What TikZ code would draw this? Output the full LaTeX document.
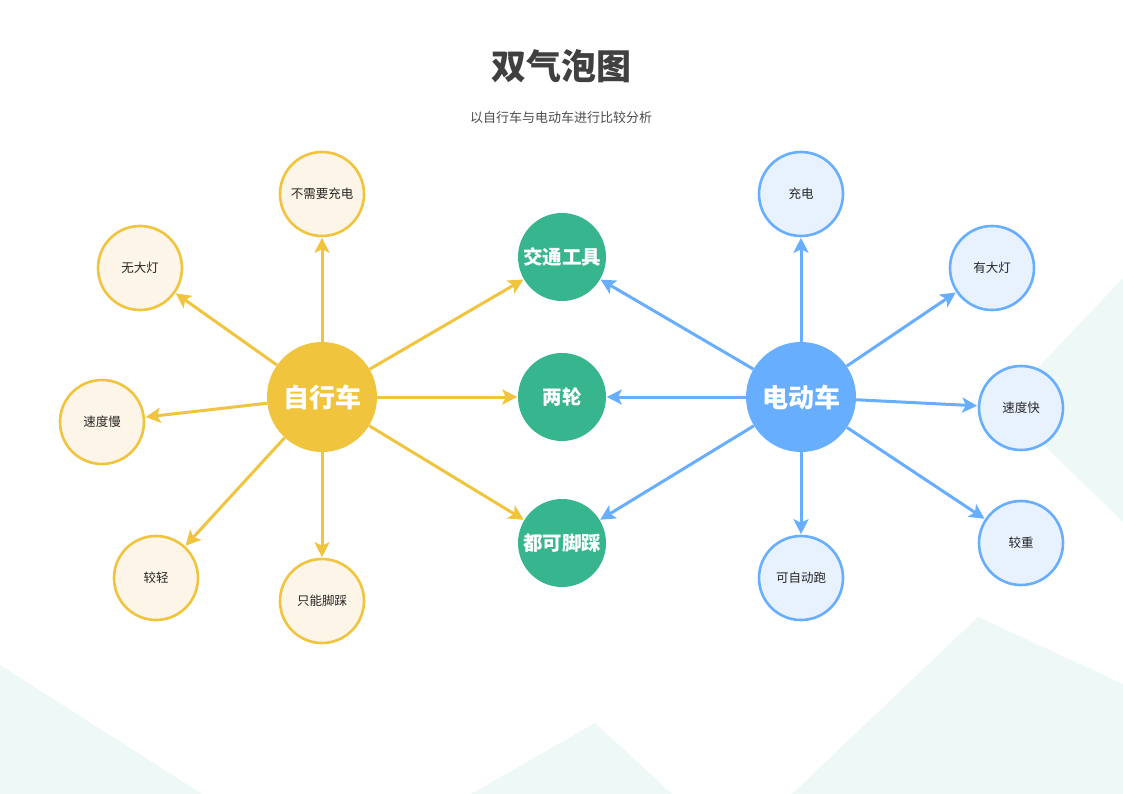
\documentclass[tikz,border=0pt]{standalone}
\usepackage{fontspec}
\setmainfont{Noto Sans CJK SC}
\usetikzlibrary{arrows.meta}
\definecolor{bgc}{HTML}{EDF8F7}
\definecolor{ylw}{HTML}{F0C43C}
\definecolor{ylwf}{HTML}{FDF5E7}
\definecolor{blu}{HTML}{67AEFF}
\definecolor{bluf}{HTML}{E8F1FE}
\definecolor{grn}{HTML}{36B58E}
\definecolor{ttl}{HTML}{404040}
\tikzset{
  big/.style={circle,minimum size=110pt,inner sep=0pt,text=white,font=\fontsize{26}{30}\selectfont\bfseries},
  mid/.style={circle,fill=grn,minimum size=88pt,inner sep=0pt,text=white,font=\fontsize{19.5}{22}\selectfont\bfseries},
  ysm/.style={circle,draw=ylw,fill=ylwf,line width=2.6pt,minimum size=84pt,inner sep=0pt,text=black!85,font=\fontsize{12.5}{15}\selectfont},
  bsm/.style={circle,draw=blu,fill=bluf,line width=2.6pt,minimum size=84pt,inner sep=0pt,text=black!85,font=\fontsize{12.5}{15}\selectfont},
  yarr/.style={draw=ylw,line width=3pt,-{Stealth[length=15pt,width=15pt,inset=3.5pt]},shorten >=0.5pt},
  barr/.style={draw=blu,line width=3pt,-{Stealth[length=15pt,width=15pt,inset=3.5pt]},shorten >=0.5pt}
}
\begin{document}
\begin{tikzpicture}[x=1pt,y=-1pt]
\useasboundingbox (0,0) rectangle (1123,794);
\fill[white] (0,0) rectangle (1123,794);
% background shapes
\fill[bgc] (0,665) -- (202,794) -- (0,794) -- cycle;
\fill[bgc] (471,794) -- (595,723) -- (672,794) -- cycle;
\fill[bgc] (792,794) -- (978,617) -- (1123,684) -- (1123,794) -- cycle;
\fill[bgc] (1123,278) -- (1003,405) -- (1123,522) -- cycle;
% title
\node[text=ttl,font=\fontsize{35}{40}\selectfont\bfseries] (title) at (561,66) {双气泡图};
\node[text=black!70,font=\fontsize{13}{16}\selectfont] (sub) at (561,118) {以自行车与电动车进行比较分析};
% nodes
\node[big,fill=ylw] (A) at (322,397) {自行车};
\node[big,fill=blu] (B) at (801,397) {电动车};
\node[mid] (c1) at (562,257) {交通工具};
\node[mid] (c2) at (562,397) {两轮};
\node[mid] (c3) at (562,543) {都可脚踩};
\node[ysm] (y1) at (322,194) {不需要充电};
\node[ysm] (y2) at (140,268) {无大灯};
\node[ysm] (y3) at (102,422) {速度慢};
\node[ysm] (y4) at (156,578) {较轻};
\node[ysm] (y5) at (322,601) {只能脚踩};
\node[bsm] (b1) at (801,194) {充电};
\node[bsm] (b2) at (992,268) {有大灯};
\node[bsm] (b3) at (1021,408) {速度快};
\node[bsm] (b4) at (1021,543) {较重};
\node[bsm] (b5) at (801,578) {可自动跑};
% connectors
\foreach \t in {y1,y2,y3,y4,y5,c1,c2,c3} \draw[yarr] (A) -- (\t);
\foreach \t in {b1,b2,b3,b4,b5,c1,c2,c3} \draw[barr] (B) -- (\t);
\end{tikzpicture}
\end{document}
